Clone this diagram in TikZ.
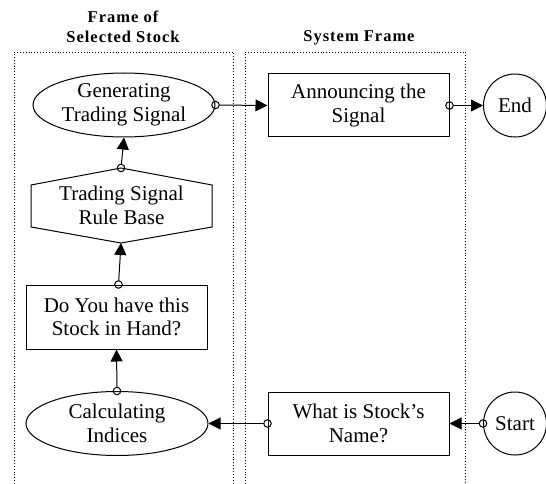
\documentclass[tikz,border=0pt]{standalone}
\usepackage{fontspec}
\setmainfont{Liberation Serif}
\usetikzlibrary{shapes.geometric,arrows.meta}
\begin{document}
\begin{tikzpicture}[x=1pt,y=-1pt,
  every node/.style={font=\fontsize{21}{23.5}\selectfont, align=center, inner sep=0pt},
  box/.style={draw, rectangle, minimum width=181pt, minimum height=63pt, line width=1pt},
  oval/.style={draw, ellipse, minimum width=182pt, minimum height=64pt, line width=1pt},
  term/.style={draw, circle, minimum size=63pt, line width=1pt},
  ttl/.style={font=\bfseries\fontsize{16.5}{20}\selectfont\addfontfeature{LetterSpace=6}, anchor=base},
  frame/.style={dotted, line width=0.9pt},
  flow/.style={line width=1pt, {Circle[open,length=8.5pt,width=8.5pt,line width=1pt]}-{Triangle[length=12pt,width=12pt]}, shorten <=-4.25pt}
]
\useasboundingbox (0,0) rectangle (546,484);
% frames
\draw[frame] (14,484) -- (14,52) -- (233,52) -- (233,484);
\draw[frame] (245,484) -- (245,52) -- (465,52) -- (465,484);
% titles
\node[ttl] (t1) at (123,23) {Frame of};
\node[ttl] (t2) at (123,43) {Selected Stock};
\node[ttl] (t3) at (359,42) {System Frame};
% nodes
\node[oval] (gen) at (124,105) {Generating\\Trading Signal};
\coordinate (hextop) at (121,168);
\coordinate (hexur) at (212,185);
\coordinate (hexlr) at (212,227);
\coordinate (hexbot) at (121,243);
\coordinate (hexll) at (31,227);
\coordinate (hexul) at (31,185);
\draw[line width=1pt, line join=miter] (hextop) -- (hexur) -- (hexlr) -- (hexbot) -- (hexll) -- (hexul) -- cycle;
\node (hex) at (121.5,205.5) {Trading Signal\\Rule Base};
\node[box, minimum height=64pt] (have) at (116.5,317) {Do You have this\\Stock in Hand?};
\node[oval] (calc) at (117,423.5) {Calculating\\Indices};
\node[box] (ann) at (358.5,105.5) {Announcing the\\Signal};
\node[box] (what) at (358.5,423.5) {What is Stock’s\\Name?};
\node[term] (end) at (515,105.5) {End};
\node[term] (start) at (515,423.5) {Start};
% connectors
\draw[flow] (gen.east) -- (ann.west);
\draw[flow] (ann.east) -- (end.west);
\draw[flow] (start.west) -- (what.east);
\draw[flow] (what.west) -- (calc.east);
\draw[flow] (calc.north) -- (have.south);
\draw[flow] ([xshift=2pt]have.north) -- (hexbot);
\draw[flow] (hextop) -- (gen.south);
\end{tikzpicture}
\end{document}
